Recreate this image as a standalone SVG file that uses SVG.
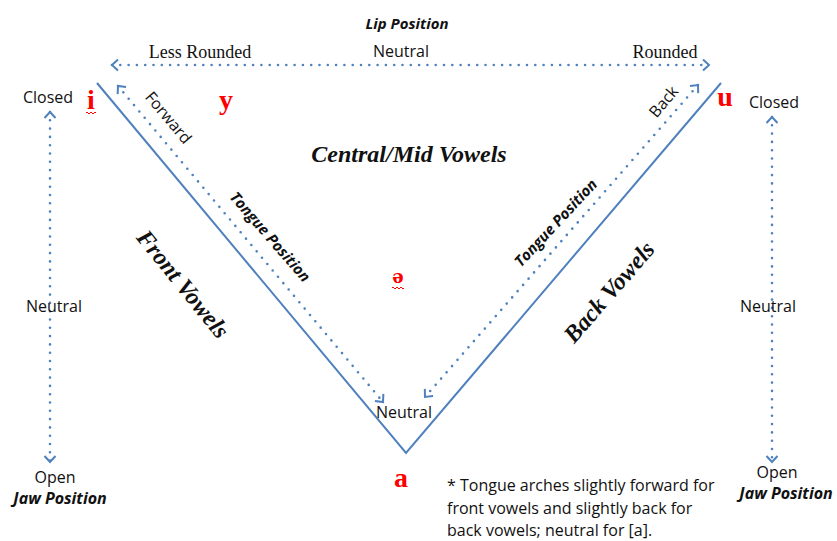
<svg xmlns="http://www.w3.org/2000/svg" width="837" height="541" viewBox="0 0 837 541">
<style>
.bg{fill:#ffffff}
.main{fill:none;stroke:#4f81bd;stroke-width:2;stroke-linejoin:miter}
.dot{fill:none;stroke:#4f81bd;stroke-width:2.6;stroke-linecap:round;stroke-dasharray:0 8.3}
.sans{font-family:"Open Sans","Liberation Sans",sans-serif;font-size:16px;fill:#111}
.sbi{font-family:"Open Sans","Liberation Sans",sans-serif;font-size:16px;font-weight:bold;font-style:italic;fill:#111}
.serif{font-family:"Liberation Serif","Times New Roman",serif;font-size:18px;fill:#111}
.sbig{font-family:"Liberation Serif","Times New Roman",serif;font-size:24px;font-weight:bold;font-style:italic;fill:#111}
.vow{font-family:"Liberation Serif","Times New Roman",serif;font-size:28px;font-weight:bold;fill:#ff0000}
.sq{fill:none;stroke:#ff0000;stroke-width:1}
</style>
<defs>
<marker id="chev" viewBox="-8 -7 10 14" markerWidth="10" markerHeight="14" refX="0" refY="0" markerUnits="userSpaceOnUse" orient="auto-start-reverse">
<path d="M-6,-5.5 L0,0 L-6,5.5" fill="none" stroke="#4f81bd" stroke-width="2" stroke-dasharray="none"/>
</marker>
</defs>
<rect class="bg" x="0" y="0" width="837" height="541"/>

<g id="connectors">
<polyline id="triangle" class="main" points="97,83 406,453 721,83"/>
<line id="lip-axis" class="dot" x1="112" y1="65" x2="709" y2="65" marker-start="url(#chev)" marker-end="url(#chev)"/>
<line id="jaw-left" class="dot" x1="50" y1="112" x2="50" y2="462" marker-start="url(#chev)" marker-end="url(#chev)"/>
<line id="jaw-right" class="dot" x1="772" y1="117" x2="772" y2="462" marker-start="url(#chev)" marker-end="url(#chev)"/>
<line id="tongue-front" class="dot" x1="118" y1="86" x2="383" y2="402" marker-start="url(#chev)" marker-end="url(#chev)"/>
<line id="tongue-back" class="dot" x1="698" y1="85" x2="425" y2="397" marker-start="url(#chev)" marker-end="url(#chev)"/>
</g>

<g id="lip-position">
<text class="sbi" x="407" y="29" text-anchor="middle" style="font-size:15px">Lip Position</text>
<text class="serif" x="200" y="58" text-anchor="middle">Less Rounded</text>
<text class="sans" x="401" y="57" text-anchor="middle">Neutral</text>
<text class="serif" x="665" y="58" text-anchor="middle">Rounded</text>
</g>

<g id="jaw-left-labels">
<text class="sans" x="48" y="103" text-anchor="middle">Closed</text>
<text class="sans" x="54" y="312" text-anchor="middle">Neutral</text>
<text class="sans" x="55" y="483" text-anchor="middle">Open</text>
<text class="sbi" x="60" y="504" text-anchor="middle">Jaw Position</text>
</g>

<g id="jaw-right-labels">
<text class="sans" x="774" y="108" text-anchor="middle">Closed</text>
<text class="sans" x="768" y="312" text-anchor="middle">Neutral</text>
<text class="sans" x="777" y="478" text-anchor="middle">Open</text>
<text class="sbi" x="786" y="499" text-anchor="middle">Jaw Position</text>
</g>

<g id="vowel-i">
<text class="vow" x="91" y="109" text-anchor="middle">i</text>
<path class="sq" d="M86,113 q1,-2 2,0 q1,2 2,0 q1,-2 2,0 q1,2 2,0 q1,-2 2,0"/>
</g>
<g id="vowel-y">
<text class="vow" x="226" y="109" text-anchor="middle">y</text>
</g>
<g id="vowel-u">
<text class="vow" x="725" y="106" text-anchor="middle">u</text>
</g>
<g id="vowel-schwa">
<text x="398" y="283" text-anchor="middle" style="font-family:'DejaVu Serif','Liberation Serif',serif;font-size:18px;font-weight:bold;fill:#ff0000">ə</text>
<path class="sq" d="M392,288 q1,-2 2,0 q1,2 2,0 q1,-2 2,0 q1,2 2,0 q1,-2 2,0 q1,2 2,0"/>
</g>
<g id="vowel-a">
<text class="vow" x="401" y="487" text-anchor="middle">a</text>
</g>

<g id="central">
<text class="sbig" x="409" y="162" text-anchor="middle">Central/Mid Vowels</text>
</g>
<g id="front">
<text class="sbig" transform="translate(183,284) rotate(51)" x="0" y="8" text-anchor="middle">Front Vowels</text>
<text class="sans" transform="translate(168,118) rotate(50)" x="0" y="5" text-anchor="middle">Forward</text>
<text class="sbi" transform="translate(270,237) rotate(49)" x="0" y="5" text-anchor="middle" style="font-size:15px">Tongue Position</text>
</g>
<g id="back">
<text class="sbig" transform="translate(609,292) rotate(-49)" x="0" y="8" text-anchor="middle">Back Vowels</text>
<text class="sans" transform="translate(664,102) rotate(-50)" x="0" y="5" text-anchor="middle">Back</text>
<text class="sbi" transform="translate(556,223) rotate(-47)" x="0" y="5" text-anchor="middle" style="font-size:15px">Tongue Position</text>
</g>
<g id="bottom-neutral">
<text class="sans" x="404" y="418" text-anchor="middle">Neutral</text>
</g>
<g id="footnote">
<text class="sans" x="447" y="491">* Tongue arches slightly forward for</text>
<text class="sans" x="447" y="514">front vowels and slightly back for</text>
<text class="sans" x="447" y="536">back vowels; neutral for [a].</text>
</g>
</svg>
